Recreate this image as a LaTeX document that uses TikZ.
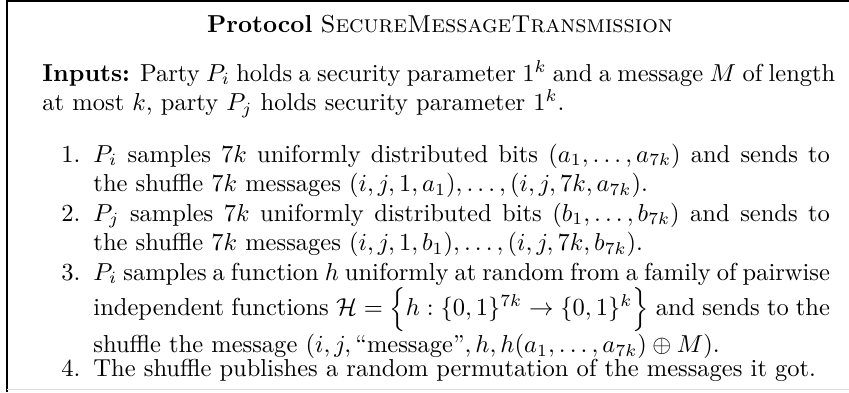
\documentclass[tikz,border=0pt]{standalone}
\usepackage{amsmath, amssymb}

\begin{document}
\begin{tikzpicture}[x=0.408pt,y=0.408pt,
      itemnum/.style={anchor=base east},
      itemtext/.style={anchor=base west, text width=300.5pt, align=justify}]
      \tikzstyle{every node}+=[inner sep=0pt]
      \useasboundingbox (0,0) rectangle (849,-392);
      % frame, cut on the right
      \draw [black, line width=0.9pt] (7,-392) -- (7,-1) -- (849,-1);
      \draw [black!12] (7,-389.5) -- (849,-389.5);
      \node [anchor=base] (title) at (440,-32) {\textbf{Protocol} \textsc{SecureMessageTransmission}};
      \node [anchor=base west, text width=323.5pt, align=justify] (inputs) at (42,-81)
        {\textbf{Inputs:} Party $P_i$ holds a security parameter $1^k$ and a message $M$ of length at most $k$, party $P_j$ holds security parameter $1^k$.};
      % the steps
      \node [itemnum] (num1) at (81,-162) {1.};
      \node [itemtext] (item1) at (93,-162)
        {$P_i$ samples $7k$ uniformly distributed bits $(a_1,\ldots,a_{7k})$ and sends to the shuffle $7k$ messages $(i,j,1,a_1),\ldots,(i,j,7k,a_{7k})$.};
      \node [itemnum] (num2) at (81,-221) {2.};
      \node [itemtext] (item2) at (93,-221)
        {$P_j$ samples $7k$ uniformly distributed bits $(b_1,\ldots,b_{7k})$ and sends to the shuffle $7k$ messages $(i,j,1,b_1),\ldots,(i,j,7k,b_{7k})$.};
      \node [itemnum] (num3) at (81,-280) {3.};
      \node [itemtext] (item3) at (93,-280)
        {$P_i$ samples a function $h$ uniformly at random from a family of pairwise independent functions $\mathcal{H}=\Bigl\{h:\{0,1\}^{7k}\to\{0,1\}^k\Bigr\}$ and sends to the shuffle the message $(i,j,\text{``message''},h,h(a_1,\ldots,a_{7k})\oplus M)$.};
      \node [itemnum] (num4) at (81,-376) {4.};
      \node [itemtext] (item4) at (93,-376)
        {The shuffle publishes a random permutation of the messages it got.};
\end{tikzpicture}
\end{document}
